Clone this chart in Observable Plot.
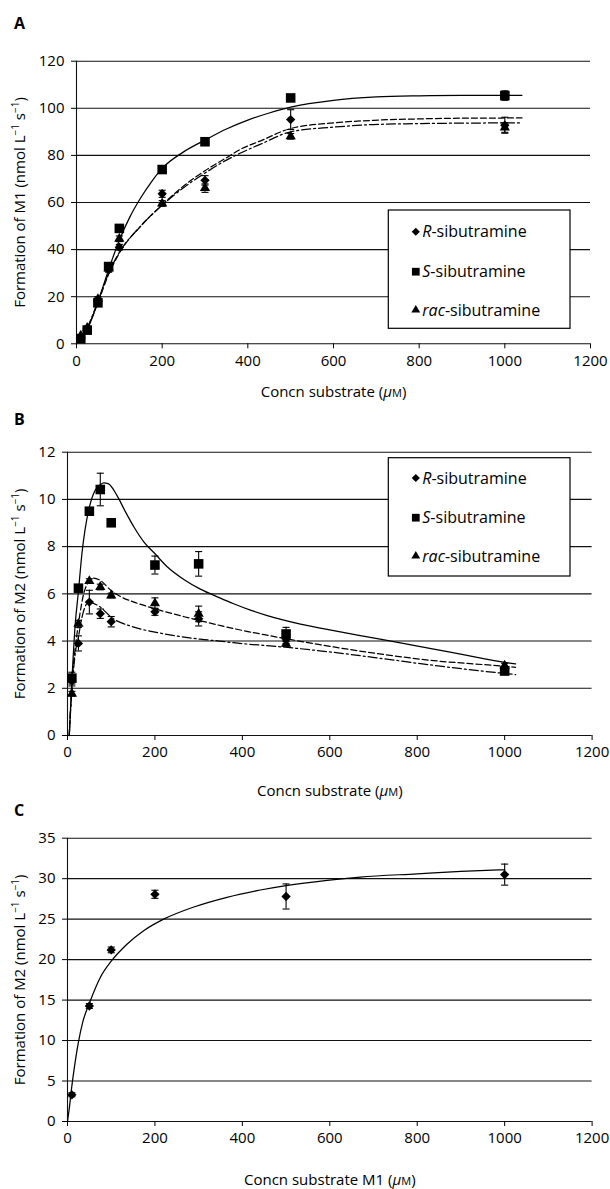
<!DOCTYPE html>
<html><head><meta charset="utf-8">
<script src="https://cdn.jsdelivr.net/npm/d3@7"></script>
<script src="https://cdn.jsdelivr.net/npm/@observablehq/plot@0.6"></script>
<style>
body{margin:0;background:#fff;}
#chart{width:610px;position:relative;}
#chart svg{display:block;}
</style></head><body><div id="chart"></div>
<script>
// ---------- data ----------
const xTicks = [0, 200, 400, 600, 800, 1000, 1200];
const concn = [10, 25, 50, 75, 100, 200, 300, 500, 1000];

// Panel A: formation of M1
const aTicksY = [0, 20, 40, 60, 80, 100, 120];
const aR = [3.0, 6.5, 18.5, 31.4, 41.0, 63.7, 69.4, 95.2, 92.8];
const aRerr = [0.6, 0.8, 1.0, 1.0, 1.2, 1.5, 2.0, 4.2, 3.4];
const aS = [2.1, 5.8, 17.4, 32.8, 49.0, 74.0, 85.8, 104.4, 105.4];
const aSerr = [0.5, 1.0, 1.0, 1.2, 1.0, 1.2, 1.5, 1.0, 2.0];
const aRac = [3.5, 6.8, 19.0, 32.0, 44.6, 59.6, 66.1, 88.1, 91.8];
const aRacErr = [0.5, 0.8, 1.0, 1.0, 1.2, 1.2, 1.8, 1.2, 2.0];
const aFitSolidX = [5, 10, 25, 50, 75, 100, 125, 150, 175, 200, 250, 300, 350, 400, 450, 500, 600, 700, 800, 900, 1040];
const aFitSolidY = [0.5, 1.5, 6, 17.8, 31.5, 44, 54, 62, 68.8, 74.5, 81.5, 86.5, 91.2, 95.0, 98.0, 100.5, 103.4, 104.8, 105.3, 105.5, 105.5];
const aFitDashX = [5, 10, 25, 50, 75, 100, 150, 200, 250, 300, 350, 383, 430, 500, 600, 694, 800, 900, 1040];
const aFitDashY = [0.6, 2, 6.5, 17.5, 29.5, 38.5, 50, 59, 67, 73.5, 79, 82.6, 86.2, 91.4, 93.8, 94.9, 95.5, 95.8, 95.9];
const aFitDotDashY = [0.6, 2, 6.8, 18, 30, 38.8, 50, 58.8, 66.3, 72.5, 78, 81.0, 84.8, 90.0, 92.0, 93.1, 93.5, 93.7, 93.8];

// Panel B: formation of M2
const bTicksY = [0, 2, 4, 6, 8, 10, 12];
const bR = [2.3, 3.9, 5.65, 5.16, 4.82, 5.24, 4.94, 4.09, 2.82];
const bRerr = [0.2, 0.32, 0.5, 0.2, 0.22, 0.15, 0.3, 0.2, 0.1];
const bS = [2.43, 6.24, 9.5, 10.42, 9.01, 7.22, 7.27, 4.3, 2.73];
const bSerr = [0.25, 0.1, 0.1, 0.69, 0.1, 0.38, 0.52, 0.28, 0.12];
const bRac = [1.77, 4.73, 6.54, 6.29, 5.93, 5.6, 5.15, 3.88, 2.96];
const bRacErr = [0.1, 0.15, 0.1, 0.12, 0.1, 0.23, 0.33, 0.1, 0.1];
const bFitSolidX = [4, 10, 17.6, 25, 33, 40, 50, 63, 75, 83, 94, 113, 133, 152, 175, 200, 228, 267, 304, 347, 380, 420, 457, 533, 609, 686, 743, 838, 914, 990, 1025];
const bFitSolidY = [0, 2.3, 4.7, 6.1, 7.7, 8.7, 9.67, 10.38, 10.62, 10.7, 10.66, 10.17, 9.46, 8.83, 8.19, 7.7, 7.15, 6.6, 6.2, 5.84, 5.58, 5.3, 5.08, 4.72, 4.44, 4.18, 3.99, 3.66, 3.39, 3.13, 3.03];
const bFitDashX = [4, 10, 17, 25, 37, 48, 60, 75, 100, 125, 152, 200, 267, 304, 347, 380, 450, 533, 609, 724, 838, 953, 1025];
const bFitDashY = [0, 2.2, 3.6, 4.73, 6.0, 6.5, 6.67, 6.57, 6.14, 5.85, 5.65, 5.37, 5.03, 4.86, 4.67, 4.53, 4.27, 3.99, 3.75, 3.43, 3.17, 3.0, 2.89];
const bFitDotDashX = [4, 10, 17.6, 25, 33, 40, 48, 75, 100, 152, 200, 267, 304, 347, 380, 498, 609, 724, 838, 953, 1025];
const bFitDotDashY = [0, 1.9, 3.46, 4.17, 5.0, 5.44, 5.65, 5.44, 5.01, 4.59, 4.38, 4.17, 4.08, 4.0, 3.93, 3.74, 3.52, 3.25, 2.97, 2.72, 2.58];

// Panel C: formation of M2 from M1
const cTicksY = [0, 5, 10, 15, 20, 25, 30, 35];
const cConcn = [10, 50, 100, 200, 500, 1000];
const cM2 = [3.3, 14.27, 21.2, 28.07, 27.8, 30.5];
const cM2err = [0.25, 0.3, 0.35, 0.5, 1.55, 1.3];
const cFitX = [0, 4, 10, 15, 25, 35, 50, 75, 100, 136, 175, 220, 289, 365, 441, 500, 594, 670, 800, 900, 1000];
const cFitY = [0, 1.6, 4.4, 6.4, 9.8, 12.3, 14.6, 17.8, 19.8, 21.9, 23.6, 25.0, 26.5, 27.7, 28.6, 29.15, 29.8, 30.2, 30.6, 30.9, 31.1];

const seriesNames = ["R-sibutramine", "S-sibutramine", "rac-sibutramine"];

// ---------- helpers ----------
const NS = "http://www.w3.org/2000/svg";
const FONT = "'Open Sans', 'Noto Sans', sans-serif";
const capSymbol = {draw(ctx, size) { const w = Math.sqrt(size); ctx.moveTo(-w / 2, 0); ctx.lineTo(w / 2, 0); }};
const toRows = (xs, ys, es) => xs.map((x, i) => ({x, y: ys[i], e: es ? es[i] : 0}));

function buildPanel(cfg) {
  const marks = [
    Plot.gridY(cfg.yTicks, {stroke: "#111", strokeOpacity: 1, strokeWidth: 1.1}),
    Plot.ruleX([0], {stroke: "#111", strokeWidth: 1.1}),
    Plot.axisY(cfg.yTicks, {tickSize: 5, tickPadding: 7, tickFormat: d => String(d),
      label: cfg.yLabel, labelAnchor: "center", labelArrow: "none", labelOffset: cfg.yLabelOffset}),
    Plot.axisX(xTicks, {tickSize: 5, tickPadding: cfg.xTickPadding, tickFormat: d => String(d),
      label: cfg.xLabel, labelAnchor: "center", labelArrow: "none", labelOffset: cfg.xLabelOffset})
  ];
  for (const f of cfg.fits) {
    marks.push(Plot.line(toRows(f.x, f.y), {x: "x", y: "y", stroke: "#000", strokeWidth: 1.25,
      strokeDasharray: f.dash, curve: "monotone-x"}));
  }
  for (const s of cfg.series) {
    const d = toRows(s.x, s.y, s.err);
    marks.push(Plot.ruleX(d, {x: "x", y1: r => r.y - r.e, y2: r => r.y + r.e, stroke: "#000", strokeWidth: 1.1}));
    marks.push(Plot.dot(d, {x: "x", y: r => r.y + r.e, symbol: capSymbol, r: 4, stroke: "#000", strokeWidth: 1.1}));
    marks.push(Plot.dot(d, {x: "x", y: r => r.y - r.e, symbol: capSymbol, r: 4, stroke: "#000", strokeWidth: 1.1}));
    marks.push(Plot.dot(d, {x: "x", y: "y", symbol: s.symbol, r: s.r, fill: "#000", stroke: "none"}));
  }
  return Plot.plot({
    width: 610, height: cfg.height,
    marginTop: cfg.marginTop, marginBottom: cfg.marginBottom,
    marginLeft: cfg.marginLeft, marginRight: cfg.marginRight,
    style: {fontFamily: FONT, fontSize: "15px", color: "#000", background: "#fff", overflow: "visible"},
    x: {domain: [0, 1200]},
    y: {domain: cfg.yDomain},
    marks
  });
}

function rich(textEl, parts) {
  if (!textEl) return;
  const inner = textEl.querySelector("tspan");
  const keep = {};
  if (inner) for (const a of ["x", "y", "dy"]) if (inner.hasAttribute(a)) keep[a] = inner.getAttribute(a);
  textEl.textContent = "";
  parts.forEach((p, i) => {
    const ts = document.createElementNS(NS, "tspan");
    if (i === 0) for (const a in keep) ts.setAttribute(a, keep[a]);
    if (p.italic) ts.setAttribute("font-style", "italic");
    if (p.size) ts.setAttribute("font-size", p.size);
    if (p.dy) ts.setAttribute("dy", p.dy);
    ts.textContent = p.t;
    textEl.appendChild(ts);
  });
}

function labelText(svg, which) {
  const g = svg.querySelector(`[aria-label="${which}-axis label"]`);
  return g ? g.querySelector("text") : null;
}

function yLabelParts(metabolite) {
  return [{t: `Formation of ${metabolite} (nmol L`}, {t: "\u22121", size: 10, dy: -6},
          {t: " s", dy: 6}, {t: "\u22121", size: 10, dy: -6}, {t: ")", dy: 6}];
}

function addLegend(svg, box, rowsY) {
  const g = d3.select(svg).append("g").attr("font-family", FONT).attr("font-size", 16)
    .attr("text-anchor", "start");
  g.append("rect").attr("x", box.x).attr("y", box.y).attr("width", box.w).attr("height", box.h)
    .attr("fill", "#fff").attr("stroke", "#000").attr("stroke-width", 1.2);
  const syms = [[d3.symbolDiamond2, 42], [d3.symbolSquare, 60], [d3.symbolTriangle, 34]];
  seriesNames.forEach((name, i) => {
    const [type, size] = syms[i];
    g.append("path").attr("d", d3.symbol(type, size)())
      .attr("transform", `translate(${box.x + 27.5},${rowsY[i]})`).attr("fill", "#000");
    const dash = name.indexOf("-");
    const t = g.append("text").attr("x", box.x + 34).attr("y", rowsY[i]).attr("dy", "0.36em")
      .attr("fill", "#000").attr("text-anchor", "start");
    t.append("tspan").attr("font-style", "italic").text(name.slice(0, dash));
    t.append("tspan").text(name.slice(dash));
  });
}

function addLetter(svg, letter, y) {
  d3.select(svg).append("text").attr("x", 14).attr("y", y).attr("font-family", FONT)
    .attr("text-anchor", "start").attr("font-size", 16).attr("font-weight", "bold")
    .attr("fill", "#000").text(letter);
}

// ---------- panels ----------
const chart = document.getElementById("chart");

const svgA = buildPanel({
  height: 400, marginTop: 60.7, marginBottom: 56.7, marginLeft: 76, marginRight: 20,
  yDomain: [0, 120], yTicks: aTicksY,
  yLabel: "Formation of M1 (nmol L-1 s-1)", yLabelOffset: 61.7,
  xLabel: "Concn substrate (μM)", xLabelOffset: 52.7, xTickPadding: 6.7,
  fits: [
    {x: aFitSolidX, y: aFitSolidY, dash: null},
    {x: aFitDashX, y: aFitDashY, dash: "6,3"},
    {x: aFitDashX, y: aFitDotDashY, dash: "9,3,2,3"}
  ],
  series: [
    {x: concn, y: aR, err: aRerr, symbol: "diamond2", r: 4.2},
    {x: concn, y: aS, err: aSerr, symbol: "square", r: 5.4},
    {x: concn, y: aRac, err: aRacErr, symbol: "triangle", r: 3.8}
  ]
});
chart.appendChild(svgA);

const svgB = buildPanel({
  height: 400, marginTop: 51.7, marginBottom: 65, marginLeft: 67, marginRight: 18.4,
  yDomain: [0, 12], yTicks: bTicksY,
  yLabel: "Formation of M2 (nmol L-1 s-1)", yLabelOffset: 52.7,
  xLabel: "Concn substrate (μM)", xLabelOffset: 60, xTickPadding: 5.4,
  fits: [
    {x: bFitSolidX, y: bFitSolidY, dash: null},
    {x: bFitDashX, y: bFitDashY, dash: "6,3"},
    {x: bFitDotDashX, y: bFitDotDashY, dash: "9,3,2,3"}
  ],
  series: [
    {x: concn, y: bR, err: bRerr, symbol: "diamond2", r: 4.2},
    {x: concn, y: bS, err: bSerr, symbol: "square", r: 5.4},
    {x: concn, y: bRac, err: bRacErr, symbol: "triangle", r: 3.8}
  ]
});
chart.appendChild(svgB);

const svgC = buildPanel({
  height: 389, marginTop: 37.7, marginBottom: 68, marginLeft: 67, marginRight: 18.4,
  yDomain: [0, 35], yTicks: cTicksY,
  yLabel: "Formation of M2 (nmol L-1 s-1)", yLabelOffset: 52.7,
  xLabel: "Concn substrate M1 (μM)", xLabelOffset: 63.5, xTickPadding: 6,
  fits: [{x: cFitX, y: cFitY, dash: null}],
  series: [{x: cConcn, y: cM2, err: cM2err, symbol: "diamond2", r: 4.2}]
});
chart.appendChild(svgC);

// ---------- text refinements ----------
rich(labelText(svgA, "y"), yLabelParts("M1"));
rich(labelText(svgB, "y"), yLabelParts("M2"));
rich(labelText(svgC, "y"), yLabelParts("M2"));
const xParts = pre => [{t: pre + " ("}, {t: "μ", italic: true}, {t: "M", size: 11}, {t: ")"}];
rich(labelText(svgA, "x"), xParts("Concn substrate"));
rich(labelText(svgB, "x"), xParts("Concn substrate"));
rich(labelText(svgC, "x"), xParts("Concn substrate M1"));

addLegend(svgA, {x: 388.3, y: 210, w: 181.7, h: 118.3}, [231.7, 271.7, 310]);
addLegend(svgB, {x: 388.3, y: 57.7, w: 181.7, h: 118.3}, [78, 117.7, 156]);

addLetter(svgA, "A", 29.3);
addLetter(svgB, "B", 25);
addLetter(svgC, "C", 16);
</script></body></html>
